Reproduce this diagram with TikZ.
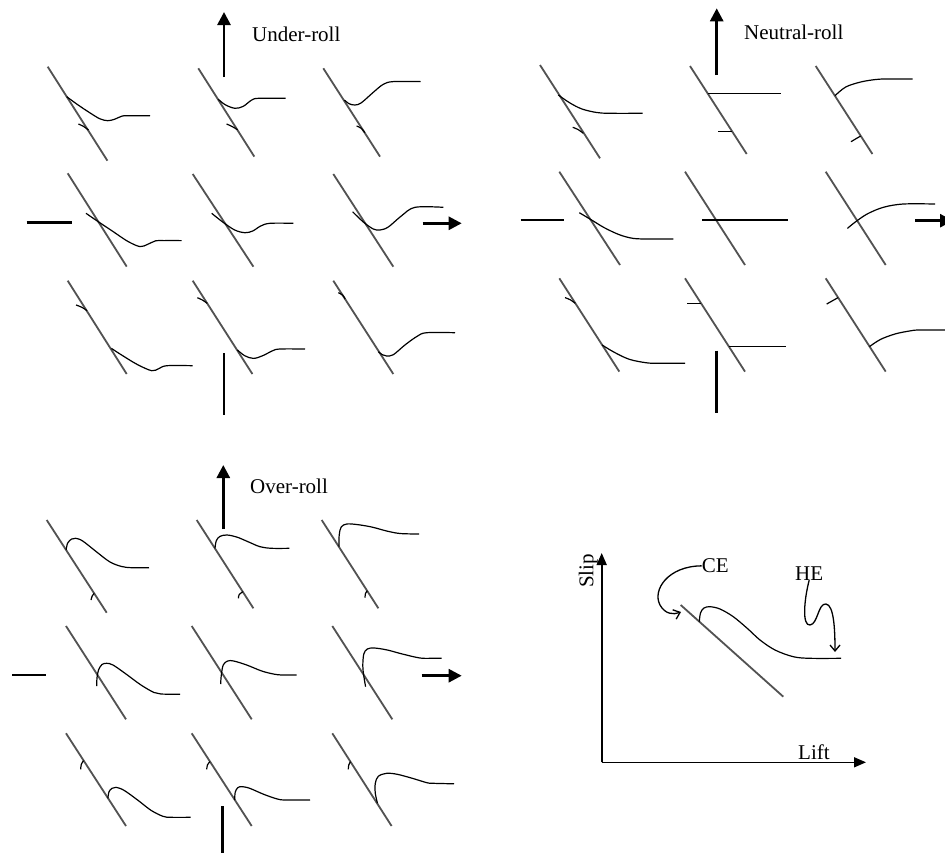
\documentclass[tikz,border=0pt]{standalone}
\usepackage{fontspec}
\setmainfont{Liberation Serif}
\usetikzlibrary{arrows.meta}
\begin{document}
\begin{tikzpicture}[x=1pt,y=-1pt,
  gl/.style={draw=black!68, line width=1.8pt},
  cv/.style={draw=black, line width=1.2pt, line join=round},
  tk/.style={draw=black, line width=1.2pt},
  mk/.style={draw=black, line width=2.7pt},
  mkarrow/.style={draw=black, line width=2.7pt, -{Triangle[length=13pt,width=13pt]}},
  axis/.style={draw=black, line width=1.6pt, -{Triangle[length=12pt,width=10pt]}},
  barb/.style={draw=black, line width=1.3pt, -{Straight Barb[length=6pt,width=10pt]}},
  lbl/.style={inner sep=0pt, font=\fontsize{21}{25}\selectfont}]
\useasboundingbox (0,0) rectangle (945,865);
\fill[white] (0,0) rectangle (945,865);
\newcommand\glin[2]{\draw[gl] (0,0) -- (#1,#2);}
\newcommand\sm{plot[smooth,tension=0.55] coordinates}

% ================= UNDER-ROLL =================
\draw[mkarrow] (224,77) -- (224,12);
\node[lbl, anchor=base west] (ulabel) at (252,41.7) {Under-roll};
\draw[mk] (26.7,222.3) -- (71.7,222.3);
\draw[mkarrow] (422.7,223.3) -- (461.7,223.3);
\draw[mk] (224,353.3) -- (224,415);

\begin{scope}[shift={(47.7,66.7)}]
 \glin{59.7}{94}
 \draw[cv] \sm {(19,30) (30,38) (42,46) (52,52) (60,54) (67,52.5) (74,49.5) (80,49) (102.3,49)};
 \draw[tk] \sm {(30.7,57.3) (36,59.8) (40.8,63.3)};
\end{scope}
\begin{scope}[shift={(198.3,68.3)}]
 \glin{56}{88.3}
 \draw[cv] \sm {(20,31) (27,36.5) (36.7,40) (45,38) (53,32) (60,30) (87.3,30)};
 \draw[tk] \sm {(28.3,55.7) (34,58.3) (39.3,61.5)};
\end{scope}
\begin{scope}[shift={(323.3,68.3)}]
 \glin{56.7}{88.3}
 \draw[cv] \sm {(21,31.7) (26,35.5) (31.7,36.7) (38,34.5) (50,24) (60,16) (70,13.3) (97.3,13.3)};
 \draw[tk] \sm {(33.3,57.7) (38,60) (41.5,64.3)};
\end{scope}
\begin{scope}[shift={(67.7,173.3)}]
 \glin{59}{93.3}
 \draw[cv] \sm {(18.3,40) (30.7,48.5) (45,58) (60,68) (72.3,73.3) (80,71) (88,67.5) (96,67.3) (114,67.3)};
\end{scope}
\begin{scope}[shift={(192.7,174)}]
 \glin{60.7}{92.7}
 \draw[cv] \sm {(19,39.3) (30,48) (42,56) (52.3,58.7) (60,57) (68,52) (77.3,49.3) (100.7,49.3)};
\end{scope}
\begin{scope}[shift={(333.3,174)}]
 \glin{60}{92.7}
 \draw[cv] \sm {(19.3,37.7) (30,48) (40,55) (46.7,56) (55,53) (68,42) (81.7,33.3) (110,33.3)};
\end{scope}
\begin{scope}[shift={(67.7,280.7)}]
 \glin{59}{93.3}
 \draw[tk] \sm {(8.3,24.3) (14,26.5) (19.4,30)};
 \draw[cv] \sm {(43.7,67.7) (55,75) (70,84) (84,90) (91,88) (99,85) (125,85)};
\end{scope}
\begin{scope}[shift={(192.7,280.7)}]
 \glin{59.7}{93.3}
 \draw[tk] \sm {(4.7,17) (9.5,19.2) (14.6,22.7)};
 \draw[cv] \sm {(44.7,69.3) (52,75) (60.7,77.7) (70,75) (80,70) (87.3,68.3) (112.3,68.3)};
\end{scope}
\begin{scope}[shift={(333.3,280.7)}]
 \glin{60}{93.3}
 \draw[tk] \sm {(5,12) (9.5,14.5) (11.8,18.3)};
 \draw[cv] \sm {(45,71) (49,74) (53.3,75.3) (60,74) (72,64) (84,55.5) (93.3,52) (121.7,52)};
\end{scope}

% ================= NEUTRAL-ROLL =================
\draw[mkarrow] (716.7,75) -- (716.7,8.3);
\node[lbl, anchor=base west] (nlabel) at (744,39.3) {Neutral-roll};
\draw[mk] (520.7,220) -- (564,220);
\draw[mkarrow] (915,220.7) -- (953,220.7);
\draw[mk] (716.7,350.7) -- (716.7,413.3);

\begin{scope}[shift={(540,65)}]
 \glin{60}{93.3}
 \draw[cv] \sm {(18.3,30) (30,38) (42,44) (56.7,47.5) (70,48.3) (102.7,48.3)};
 \draw[tk] \sm {(32.7,62.3) (38,64.5) (43.3,68.3)};
\end{scope}
\begin{scope}[shift={(690,66)}]
 \glin{56.7}{88}
 \draw[cv] (17.6,27.3) -- (90.7,27.3);
 \draw[tk] (28.3,65.7) -- (42.1,65.7);
\end{scope}
\begin{scope}[shift={(815.7,66)}]
 \glin{56.7}{88}
 \draw[cv] \sm {(19.3,29.7) (30,21) (45,16) (60,13.5) (71,13) (97,13)};
 \draw[tk] (35.3,75.7) -- (44.9,70);
\end{scope}
\begin{scope}[shift={(559.3,171.7)}]
 \glin{60.7}{93.3}
 \draw[cv] \sm {(20,41) (32.3,48.3) (45,56) (60,63) (74,66.7) (90,67.3) (114,67.3)};
\end{scope}
\begin{scope}[shift={(685,171.7)}]
 \glin{60}{93.3}
 \draw[cv] (17.3,48.3) -- (103.3,48.3);
\end{scope}
\begin{scope}[shift={(825.7,171.7)}]
 \glin{60}{93.3}
 \draw[cv] \sm {(21.7,56.7) (30,50) (42,42) (58,35.5) (77.7,32.3) (109.3,32.3)};
\end{scope}
\begin{scope}[shift={(559.3,278.3)}]
 \glin{60}{93.3}
 \draw[tk] \sm {(5.7,19.3) (11,21.5) (16,25)};
 \draw[cv] \sm {(42.8,66.7) (55,74) (70,81) (87.3,84.5) (100,85) (125.7,85)};
\end{scope}
\begin{scope}[shift={(685,278.3)}]
 \glin{60}{93.3}
 \draw[tk] (2.3,25) -- (16,25);
 \draw[cv] (43.8,68.3) -- (101,68.3);
\end{scope}
\begin{scope}[shift={(825.7,278.3)}]
 \glin{60}{93.3}
 \draw[tk] (1,25.7) -- (12.4,19.3);
 \draw[cv] \sm {(43.8,68.3) (55,61) (70,55.5) (85,52.5) (94.3,51.7) (130,51.7)};
\end{scope}

% ================= OVER-ROLL =================
\draw[mkarrow] (223.3,529) -- (223.3,465);
\node[lbl, anchor=base west] (olabel) at (250,493.3) {Over-roll};
\draw[mk] (12.3,675) -- (46,675);
\draw[mkarrow] (421.7,675.7) -- (461.7,675.7);
\draw[mk] (222.7,806) -- (222.7,853);

\begin{scope}[shift={(46.7,520)}]
 \glin{60}{92.7}
 \draw[cv] \sm {(19.4,30) (21,23) (25,19) (29,18.3) (36,21) (50,32) (63.3,42) (75,46.5) (85,47.7) (102.3,47.7)};
 \draw[tk] \sm {(44.3,80) (45.5,76) (47.5,73.3)};
\end{scope}
\begin{scope}[shift={(196.7,520)}]
 \glin{56.7}{88.3}
 \draw[cv] \sm {(18.3,28.3) (19.5,21) (23,16.5) (30,15) (40,17) (52,22) (63.3,26.7) (75,28.3) (92.7,28.3)};
 \draw[tk] \sm {(41.7,78.3) (42.5,74.5) (46.3,71.7)};
\end{scope}
\begin{scope}[shift={(321.7,520)}]
 \glin{56.7}{88.3}
 \draw[cv] \sm {(17.2,26.7) (17.5,15) (19.5,7) (25,4) (35,4.5) (50,7) (65,11) (78.3,13.5) (97.3,14)};
 \draw[tk] \sm {(43.3,77.7) (43.8,73.5) (45.6,70.7)};
\end{scope}
\begin{scope}[shift={(66,626)}]
 \glin{60}{93.3}
 \draw[cv] \sm {(30.7,60) (31,52) (32.5,44) (36,38.5) (40.7,37.3) (47,39) (60,48) (75,59) (88,66.5) (95,68) (114,68.3)};
\end{scope}
\begin{scope}[shift={(191.7,626)}]
 \glin{60}{93.3}
 \draw[cv] \sm {(29,58) (29.5,50) (31.5,39) (36,35) (42,35) (55,39) (70,45) (81.7,48) (90,49) (105,49)};
\end{scope}
\begin{scope}[shift={(332.3,626)}]
 \glin{60}{93.3}
 \draw[cv] \sm {(33.3,60.7) (31.5,50) (30.5,40) (31.5,28) (35,23) (42,22) (55,24) (70,28) (87.7,32) (100,32.3) (109.3,32.3)};
\end{scope}
\begin{scope}[shift={(66,733.3)}]
 \glin{60}{92.7}
 \draw[tk] \sm {(14.7,36) (15.3,31) (17.6,27.3)};
 \draw[cv] \sm {(41.9,65) (43,58.5) (46,55) (50,54) (58,57) (72,67) (85,77) (97,83) (105,84) (124.7,84)};
\end{scope}
\begin{scope}[shift={(191.7,733.3)}]
 \glin{60}{92.7}
 \draw[tk] \sm {(15,36) (15.8,31.5) (18.3,28.3)};
 \draw[cv] \sm {(43,66.7) (43.5,59) (46,54.5) (50,53.3) (58,55) (72,61) (85,65.5) (93.3,66.7) (118.3,66.7)};
\end{scope}
\begin{scope}[shift={(332.3,733.3)}]
 \glin{59.3}{92.7}
 \draw[tk] \sm {(16,36) (16.5,31.5) (18.3,28.3)};
 \draw[cv] \sm {(45.2,70) (43,60) (43,50) (46,43) (54.3,40) (65,41) (80,45) (95,49.5) (101,50) (121.7,50.5)};
\end{scope}

% ================= LEGEND =================
\coordinate (origin) at (601.7,762.3);
\coordinate (ytip) at (601.7,553);
\coordinate (xtip) at (866,762.3);
\draw[axis] (origin) -- (ytip);
\draw[axis] (origin) -- (xtip);
\node[lbl, anchor=base west] (lift) at (798,759.3) {Lift};
\node[lbl, anchor=base west, rotate=90] (slip) at (593.3,588) {Slip};
\node[lbl, anchor=base west] (CE) at (701.7,572.7) {CE};
\node[lbl, anchor=base west] (HE) at (795,580) {HE};
\draw[gl] (680.7,605) -- (783.3,696.7);
\draw[cv] \sm {(699.3,621.7) (700.5,613) (704,608) (710,606.7) (720,609) (733.3,616.7) (748,629) (760,640) (775,650) (793.3,656.7) (810,658.3) (841,658.3)};
\coordinate (cetip) at (681,612);
\coordinate (hetip) at (835,652);
\draw[barb] (CE.west) .. controls (668,566) and (652,590) .. (660,605) .. controls (665,614) and (673,615) .. (cetip);
\draw[barb] (HE.south) .. controls (804,600) and (802,626) .. (810,625) .. controls (818,624) and (818,603) .. (826,604) .. controls (834,605) and (835,630) .. (hetip);
\end{tikzpicture}
\end{document}
